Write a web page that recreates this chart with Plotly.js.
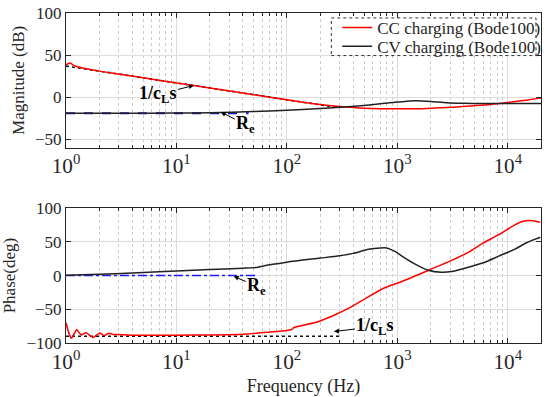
<!DOCTYPE html>
<html>
<head>
<meta charset="utf-8">
<script src="https://cdn.plot.ly/plotly-3.0.1.min.js"></script>
<style>
  html, body { margin: 0; padding: 0; background: #fff; }
  #chart { width: 556px; height: 397px; }
</style>
</head>
<body>
<div id="chart"></div>
<script>
// Measured impedance of the battery load, Bode100 sweep

// Magnitude, CC charging
const magCCFreq = [1, 1.05, 1.1, 1.15, 1.25, 1.5, 2, 3, 5, 10, 20, 50, 100, 150, 200, 300, 400, 500, 700, 1000, 1500, 2000, 3000, 5000, 7000, 10000, 14000, 20000];
const magCC     = [38.5, 40, 40.5, 38.5, 36.5, 34, 31, 27.5, 23, 17, 11, 3, -3, -6.5, -8.5, -11, -12.3, -13, -13.6, -13.8, -13.7, -13, -12, -10, -8.5, -6.3, -4, -1];

// Magnitude, CV charging
const magCVFreq = [1, 3, 10, 20, 50, 100, 200, 300, 500, 700, 1000, 1450, 2000, 2800, 4000, 5600, 10000, 20000];
const magCV     = [-19, -19, -18.8, -18.3, -17, -15.5, -13.5, -12, -9.7, -7.8, -5.8, -4.3, -5, -6.6, -7.2, -7.4, -7.5, -7.4];

// Phase, CC charging
const phCCFreq = [1, 1.06, 1.12, 1.18, 1.25, 1.32, 1.38, 1.45, 1.53, 1.65, 1.76, 1.9, 2.02, 2.15, 2.24, 2.4, 2.5, 2.7, 3, 4, 10, 20, 40, 68, 100, 112, 116, 138, 194, 274, 386, 545, 770, 1090, 1925, 3140, 4340, 6000, 8300, 11500, 14000, 17000, 19700];
const phCC     = [-70, -85, -93, -87, -80, -85, -88, -86, -85, -89, -92, -88, -85, -88, -89, -86, -86, -87.5, -87.5, -88.5, -88.5, -88, -87, -84, -81.5, -79.5, -77, -74, -68, -58, -46, -31.5, -18, -9, 8, 23, 34, 48.5, 60.7, 75, 81, 81.5, 79];

// Phase, CV charging
const phCVFreq = [1, 2, 5, 10, 20, 40, 55, 60, 70, 100, 200, 300, 400, 550, 700, 800, 950, 1150, 1450, 1900, 2500, 3100, 4300, 6000, 8300, 11500, 14500, 17000, 19700];
const phCV     = [0.5, 2, 4.5, 7, 9, 11, 12.5, 14, 16, 20, 26, 29.5, 33, 39, 41, 41, 36, 27, 17, 8, 5, 6, 12, 19, 29, 39, 48, 53, 57];

// Model asymptotes: capacitive 1/(c_L s) and resistive R_e
const capFreq = [1, 300];
const capMag  = [37, -12.5];
const capPh   = [-90, -90];
const resMagFreq = [1, 45];
const resMag     = [-19, -19];
const resPhFreq  = [1, 52];
const resPh      = [0, 0];

const legendNames = ['CC charging (Bode100)', 'CV charging (Bode100)'];
const decadeTicks = ['10<sup>0</sup>', '10<sup>1</sup>'];

const FONT = 'Liberation Serif, Times New Roman, serif';
const TXT = '#262626';
const RED = '#ff0000';
const BLK = '#222222';
const BLUE = '#1a1aff';

const traces = [
  { x: capFreq, y: capMag, xaxis: 'x', yaxis: 'y', mode: 'lines', showlegend: false,
    line: { color: '#111', width: 1.6, dash: 'dot' } },
  { x: resMagFreq, y: resMag, xaxis: 'x', yaxis: 'y', mode: 'lines', showlegend: false,
    line: { color: '#1010c0', width: 2, dash: 'dash' } },
  { x: magCCFreq, y: magCC, xaxis: 'x', yaxis: 'y', mode: 'lines', name: legendNames[0], legend: 'legend',
    line: { color: RED, width: 1.5, shape: 'spline', smoothing: 0.8 } },
  { x: magCVFreq, y: magCV, xaxis: 'x', yaxis: 'y', mode: 'lines', name: legendNames[1], legend: 'legend2',
    line: { color: BLK, width: 1.5, shape: 'spline', smoothing: 0.8 } },

  { x: capFreq, y: capPh, xaxis: 'x2', yaxis: 'y2', mode: 'lines', showlegend: false,
    line: { color: '#111', width: 1.6, dash: 'dot' } },
  { x: resPhFreq, y: resPh, xaxis: 'x2', yaxis: 'y2', mode: 'lines', showlegend: false,
    line: { color: BLUE, width: 1.5, dash: 'dashdot' } },
  { x: phCCFreq, y: phCC, xaxis: 'x2', yaxis: 'y2', mode: 'lines', showlegend: false,
    line: { color: RED, width: 1.5, shape: 'spline', smoothing: 0.5 } },
  { x: phCVFreq, y: phCV, xaxis: 'x2', yaxis: 'y2', mode: 'lines', showlegend: false,
    line: { color: BLK, width: 1.5, shape: 'spline', smoothing: 0.8 } }
];

function freqAxis(extra) {
  return Object.assign({
    type: 'log',
    range: [0, Math.log10(20000)],
    dtick: 1,
    exponentformat: 'power',
    labelalias: { '1': decadeTicks[0], '10': decadeTicks[1] },
    ticks: 'inside', ticklen: 5, tickcolor: TXT,
    showline: true, linecolor: TXT, linewidth: 1, mirror: 'ticks',
    showgrid: true, gridcolor: '#dcdcdc', gridwidth: 1,
    zeroline: false,
    tickfont: { family: FONT, size: 17, color: TXT },
    minor: { dtick: 'D1', ticks: 'inside', ticklen: 3, tickcolor: TXT,
             showgrid: true, gridcolor: '#cacaca', griddash: 'dot', gridwidth: 1 }
  }, extra);
}

function valueAxis(extra) {
  return Object.assign({
    ticks: 'inside', ticklen: 5, tickcolor: TXT,
    showline: true, linecolor: TXT, linewidth: 1, mirror: 'ticks',
    showgrid: true, gridcolor: '#dcdcdc', gridwidth: 1,
    zeroline: false,
    tickfont: { family: FONT, size: 17, color: TXT }
  }, extra);
}

const lx = v => Math.log10(v);
const noteFont = { family: FONT, size: 18, color: '#000' };
const legendStyle = {
  x: 0.571, xanchor: 'left', yanchor: 'middle',
  bgcolor: 'rgba(0,0,0,0)', borderwidth: 0,
  font: { family: FONT, size: 17, color: TXT }
};
const arrowStyle = { showarrow: true, arrowhead: 2, arrowsize: 1, arrowwidth: 1, arrowcolor: '#000', font: noteFont };

const layout = {
  width: 556, height: 397,
  margin: { l: 66, r: 12, t: 10, b: 54 },
  paper_bgcolor: '#fff', plot_bgcolor: '#fff',
  font: { family: FONT, color: TXT },
  showlegend: true,
  legend: Object.assign({ y: 0.955 }, legendStyle),
  legend2: Object.assign({ y: 0.898 }, legendStyle),
  xaxis: freqAxis({ domain: [0, 1], anchor: 'y' }),
  yaxis: valueAxis({ domain: [0.5916, 1], anchor: 'x', range: [-60, 100], tickvals: [-50, 0, 50, 100],
    title: { text: 'Magnitude (dB)', font: { family: FONT, size: 17, color: TXT }, standoff: 6 } }),
  xaxis2: freqAxis({ domain: [0, 1], anchor: 'y2',
    title: { text: 'Frequency (Hz)', font: { family: FONT, size: 18, color: TXT }, standoff: 8 } }),
  yaxis2: valueAxis({ domain: [0, 0.4084], anchor: 'x2', range: [-100, 100], tickvals: [-100, -50, 0, 50, 100],
    title: { text: 'Phase(deg)', font: { family: FONT, size: 17, color: TXT }, standoff: 6 } }),
  shapes: [
    { type: 'rect', xref: 'paper', yref: 'paper', x0: 0.5586, x1: 0.9895, y0: 0.871, y1: 0.985,
      fillcolor: '#fff', line: { color: '#333', width: 1, dash: 'dot' }, layer: 'above' }
  ],
  annotations: [
    Object.assign({ xref: 'x', yref: 'y', x: lx(14.4), y: 14, ax: -36, ay: 9,
      text: '<b>1/c<sub>L</sub>s</b>' }, arrowStyle),
    Object.assign({ xref: 'x', yref: 'y', x: lx(25.2), y: -17.4, ax: 25, ay: 13,
      text: '<b>R<sub>e</sub></b>' }, arrowStyle),
    Object.assign({ xref: 'x2', yref: 'y2', x: lx(33), y: -1, ax: 23, ay: 10,
      text: '<b>R<sub>e</sub></b>' }, arrowStyle),
    Object.assign({ xref: 'x2', yref: 'y2', x: lx(267), y: -83, ax: 41, ay: -5,
      text: '<b>1/c<sub>L</sub>s</b>' }, arrowStyle)
  ]
};

Plotly.newPlot('chart', traces, layout, { displayModeBar: false, staticPlot: true });
</script>
</body>
</html>
